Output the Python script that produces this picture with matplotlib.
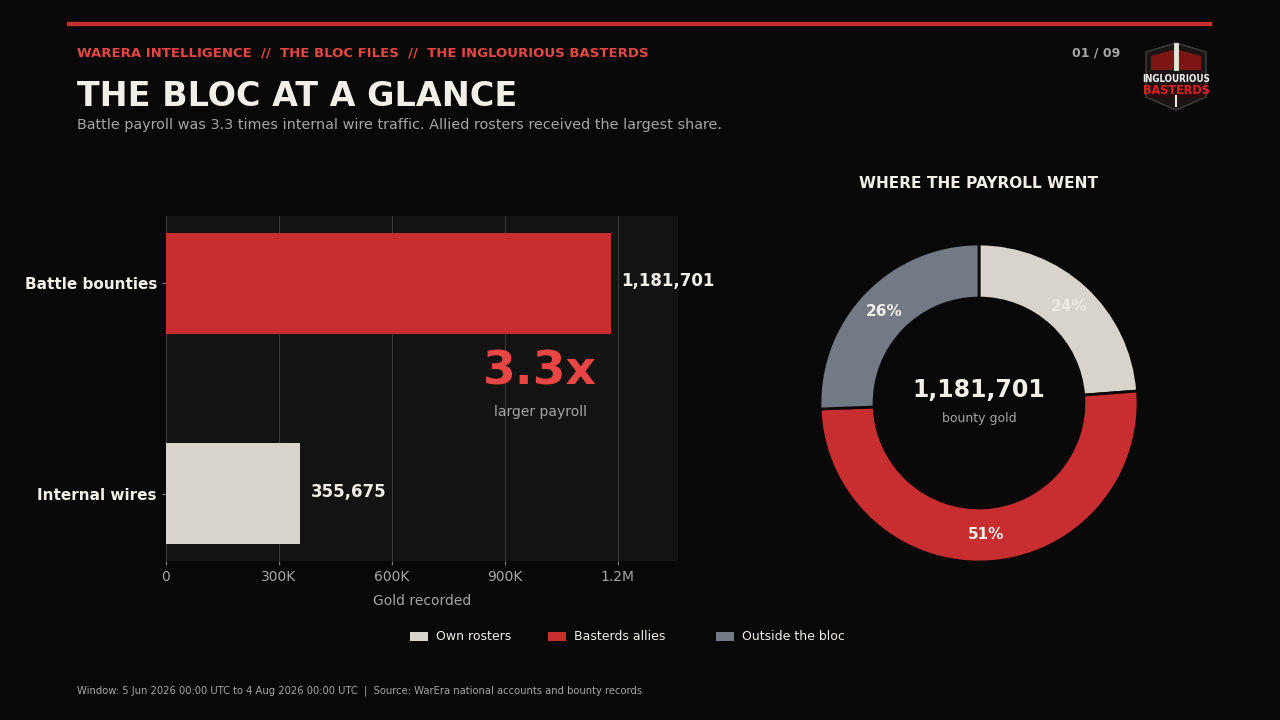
import numpy as np
import matplotlib.pyplot as plt
from matplotlib.patches import Polygon, Rectangle

# --- data ---
categories = ['Internal wires', 'Battle bounties']
totals = [355675, 1181701]
share_labels = ['Own rosters', 'Basterds allies', 'Outside the bloc']
share_values = [281245, 597930, 302526]
x_ticks = [0, 300000, 600000, 900000, 1200000]
x_tick_labels = ['0', '300K', '600K', '900K', '1.2M']

BG = '#080808'
PANEL = '#131313'
RED = '#c82e2f'
CREAM = '#d8d4cc'
SLATE = '#737a85'
HEAD_RED = '#e84545'
WHITE = '#f2efe8'
GREY_TXT = '#a6a6a6'

W, H = 1280, 720
fig = plt.figure(figsize=(12.8, 7.2), dpi=100, facecolor=BG)


def fx(px):
    return px / W


def fy(py):
    return 1 - py / H


# top rule
fig.add_artist(plt.Line2D([fx(69), fx(1210)], [fy(24), fy(24)], color=RED, lw=3))

# header texts
fig.text(fx(77), fy(53), 'WARERA INTELLIGENCE  //  THE BLOC FILES  //  THE INGLOURIOUS BASTERDS',
         color=HEAD_RED, fontsize=9.5, fontweight='bold', va='center')
fig.text(fx(77), fy(97), 'THE BLOC AT A GLANCE', color=WHITE, fontsize=24,
         fontweight='bold', va='center')
fig.text(fx(77), fy(125), 'Battle payroll was 3.3 times internal wire traffic. Allied rosters received the largest share.',
         color=GREY_TXT, fontsize=10.4, va='center')
fig.text(fx(1120), fy(53), '01 / 09', color=GREY_TXT, fontsize=9, fontweight='bold',
         va='center', ha='right')

# logo badge (simple shield)
cx, cy = 1176, 76
pts = [(cx - 30, cy - 24), (cx, cy - 33), (cx + 30, cy - 24), (cx + 30, cy + 21),
       (cx, cy + 34), (cx - 30, cy + 21)]
fig.add_artist(Polygon([(fx(a), fy(b)) for a, b in pts], closed=True,
                       facecolor='#1a1414', edgecolor='#3a3a3a', lw=1.2,
                       transform=fig.transFigure))
fig.add_artist(Polygon([(fx(a), fy(b)) for a, b in
                        [(cx - 25, cy - 20), (cx, cy - 27), (cx + 25, cy - 20), (cx + 25, cy - 6),
                         (cx - 25, cy - 6)]],
                       closed=True, facecolor='#7e1515', edgecolor='none', transform=fig.transFigure))
fig.add_artist(Polygon([(fx(a), fy(b)) for a, b in
                        [(cx - 28, cy + 8), (cx + 28, cy + 8), (cx + 28, cy + 22), (cx - 28, cy + 22)]],
                       closed=True, facecolor='#2a0c0c', edgecolor='none', transform=fig.transFigure))
fig.add_artist(plt.Line2D([fx(cx), fx(cx)], [fy(cy - 31), fy(cy - 8)], color='#e8e4dc', lw=3.5))
fig.add_artist(plt.Line2D([fx(cx), fx(cx)], [fy(cy + 20), fy(cy + 30)], color='#e8e4dc', lw=1.5))
fig.text(fx(cx), fy(cy + 3), 'INGLOURIOUS', color='#eeeeee', fontsize=7, fontweight='bold',
         ha='center', va='center', fontstretch='condensed')
fig.text(fx(cx), fy(cy + 15), 'BASTERDS', color='#e02020', fontsize=9, fontweight='bold',
         ha='center', va='center', fontstretch='condensed')

# --- bar chart ---
ax = fig.add_axes([fx(166), fy(561), fx(678) - fx(166), fy(216) - fy(561)])
ax.set_facecolor(PANEL)
ypos = np.arange(len(categories))
ax.barh(ypos, totals, height=0.48, color=[CREAM, RED], zorder=3)
ax.set_xlim(0, 1360000)
ax.set_ylim(-0.32, 1.32)
ax.set_yticks(ypos)
ax.set_yticklabels(categories, color=WHITE, fontsize=11, fontweight='bold')
ax.set_xticks(x_ticks)
ax.set_xticklabels(x_tick_labels, color=GREY_TXT, fontsize=10)
ax.tick_params(axis='both', colors='#777777', length=3)
ax.tick_params(axis='x', labelcolor=GREY_TXT)
ax.tick_params(axis='y', labelcolor=WHITE)
ax.grid(axis='x', color='#3a3a3a', lw=0.8, zorder=0)
for s in ax.spines.values():
    s.set_visible(False)
ax.set_xlabel('Gold recorded', color=GREY_TXT, fontsize=10, labelpad=7)
for y, v in zip(ypos, totals):
    ax.text(v + 28000, y + 0.01, f'{v:,}', color=WHITE, fontsize=12, fontweight='bold',
            va='center', ha='left')

ratio = totals[1] / totals[0]
fig.text(fx(540), fy(372), f'{ratio:.1f}x', color=HEAD_RED, fontsize=34, fontweight='bold',
         ha='center', va='center')
fig.text(fx(540), fy(412), 'larger payroll', color=GREY_TXT, fontsize=10, ha='center', va='center')

# --- donut ---
R = 159
ax2 = fig.add_axes([fx(979 - R), fy(403 + R), fx(2 * R), fy(0) - fy(2 * R)])
ax2.set_facecolor(BG)
wedges, _, autotexts = ax2.pie(share_values, colors=[CREAM, RED, SLATE], startangle=90,
                               counterclock=False, radius=1, autopct='%1.0f%%',
                               pctdistance=0.83,
                               wedgeprops=dict(width=0.34, edgecolor=BG, linewidth=2),
                               textprops=dict(color=WHITE, fontsize=11, fontweight='bold'))
autotexts[0].set_color('#eeeae2')
ax2.set_xlim(-1, 1)
ax2.set_ylim(-1, 1)
ax2.set_aspect('equal')
ax2.axis('off')
ax2.text(0, 0.08, f'{sum(share_values):,}', color=WHITE, fontsize=17, fontweight='bold',
         ha='center', va='center')
ax2.text(0, -0.1, 'bounty gold', color=GREY_TXT, fontsize=9, ha='center', va='center')
fig.text(fx(979), fy(184), 'WHERE THE PAYROLL WENT', color=WHITE, fontsize=11.1,
         fontweight='bold', ha='center', va='center')

# legend (placed by hand to match the spacing)
legend_x = [410, 548, 716]
for x0, lab, col in zip(legend_x, share_labels, [CREAM, RED, SLATE]):
    fig.add_artist(Rectangle((fx(x0), fy(641)), fx(18), fy(632) - fy(641), facecolor=col,
                             edgecolor='none', transform=fig.transFigure))
    fig.text(fx(x0 + 26), fy(636), lab, color=WHITE, fontsize=9, va='center')

fig.text(fx(77), fy(691), 'Window: 5 Jun 2026 00:00 UTC to 4 Aug 2026 00:00 UTC  |  Source: WarEra national accounts and bounty records',
         color=GREY_TXT, fontsize=7.2, va='center')

fig.savefig('out.png', dpi=100, facecolor=BG)
